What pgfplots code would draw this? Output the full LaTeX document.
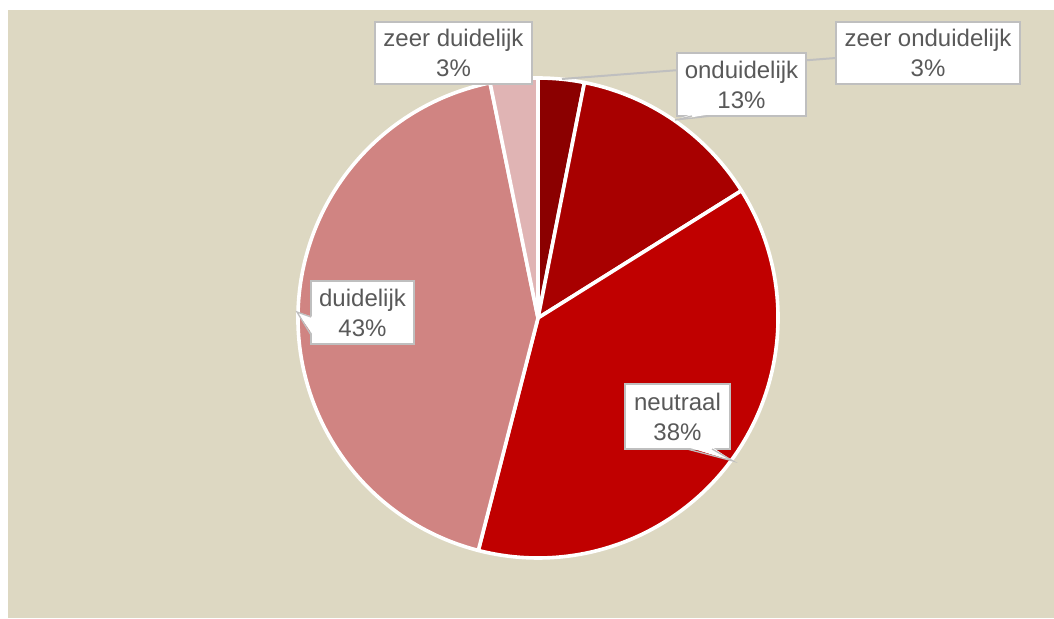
\documentclass[border=0pt]{standalone}
\usepackage{pgfplots}
\pgfplotsset{compat=1.18}
\usepackage{pgfplotstable}
\usepackage{fontspec}
\setmainfont{Liberation Sans}
\definecolor{bg}{HTML}{DDD8C2}
\definecolor{pc0}{HTML}{8B0000}
\definecolor{pc1}{HTML}{A80000}
\definecolor{pc2}{HTML}{C00000}
\definecolor{pc3}{HTML}{D08482}
\definecolor{pc4}{HTML}{E0B4B4}
\definecolor{txt}{HTML}{595959}
\definecolor{bdr}{HTML}{BFBFBF}

% share of each answer, in %, clockwise from the top
\pgfplotstableread{
value
3.1
13.0
37.9
42.8
3.2
}\piedata

\begin{document}
\begin{tikzpicture}
\def\cum{0}
\pgfplotsforeachungrouped \i in {0,...,4}{%
  \pgfplotstablegetelem{\i}{value}\of\piedata
  \pgfmathsetmacro\s{90-3.6*\cum}%
  \pgfmathsetmacro\cum{\cum+\pgfplotsretval}%
  \pgfmathsetmacro\e{90-3.6*\cum}%
  \expandafter\xdef\csname pieS\i\endcsname{\s}%
  \expandafter\xdef\csname pieE\i\endcsname{\e}%
}
\tikzset{lbl/.style={fill=white, draw=bdr, line width=1.3pt, text=txt,
  font=\fontsize{24}{30}\selectfont, align=center, inner sep=0pt}}
\begin{axis}[x=1pt,y=1pt,xmin=0,xmax=1054,ymin=0,ymax=618,hide axis,
  clip=false, anchor=origin, at={(0,0)}]
\fill[white] (axis cs:0,0) rectangle (axis cs:1054,618);
\fill[bg] (axis cs:8,0) rectangle (axis cs:1054,608);
\pgfplotsinvokeforeach{0,...,4}{%
  \edef\tmp{\noexpand\filldraw[fill=pc#1, draw=white, line width=3.6pt, line join=round]
   (axis cs:538,300) -- (axis cs:{538+240*cos(\csname pieS#1\endcsname)},{300+240*sin(\csname pieS#1\endcsname)})
   arc[start angle=\csname pieS#1\endcsname, end angle=\csname pieE#1\endcsname, radius=240pt] -- cycle;}%
  \tmp
}
% leader line
\draw[bdr, line width=2pt] (axis cs:562,539) -- (axis cs:836,560);
% labels
\node[lbl, minimum width=157pt, minimum height=62pt] at (axis cs:453.5,565) {zeer duidelijk\\3\%};
\node[lbl, minimum width=184pt, minimum height=62pt] at (axis cs:928,565) {zeer onduidelijk\\3\%};
\node[lbl, minimum width=129pt, minimum height=63pt] at (axis cs:741.5,533.5) {onduidelijk\\13\%};
\node[lbl, minimum width=103pt, minimum height=63pt] at (axis cs:362.5,305.5) {duidelijk\\43\%};
\node[lbl, minimum width=105pt, minimum height=65pt] at (axis cs:677.5,201.5) {neutraal\\38\%};
% callout tails
\fill[white] (axis cs:687,171) -- (axis cs:733,157) -- (axis cs:712,171) -- cycle;
\draw[bdr, line width=1.3pt] (axis cs:687,169) -- (axis cs:733,157) -- (axis cs:712,169);
\fill[white] (axis cs:313,301) -- (axis cs:297,306) -- (axis cs:313,283) -- cycle;
\draw[bdr, line width=1.3pt] (axis cs:311,301) -- (axis cs:297,306) -- (axis cs:311,283);
\fill[white] (axis cs:692,504) -- (axis cs:675,498) -- (axis cs:712,504) -- cycle;
\draw[bdr, line width=1.3pt] (axis cs:692,502) -- (axis cs:675,498) -- (axis cs:712,502);
\end{axis}
\end{tikzpicture}
\end{document}
